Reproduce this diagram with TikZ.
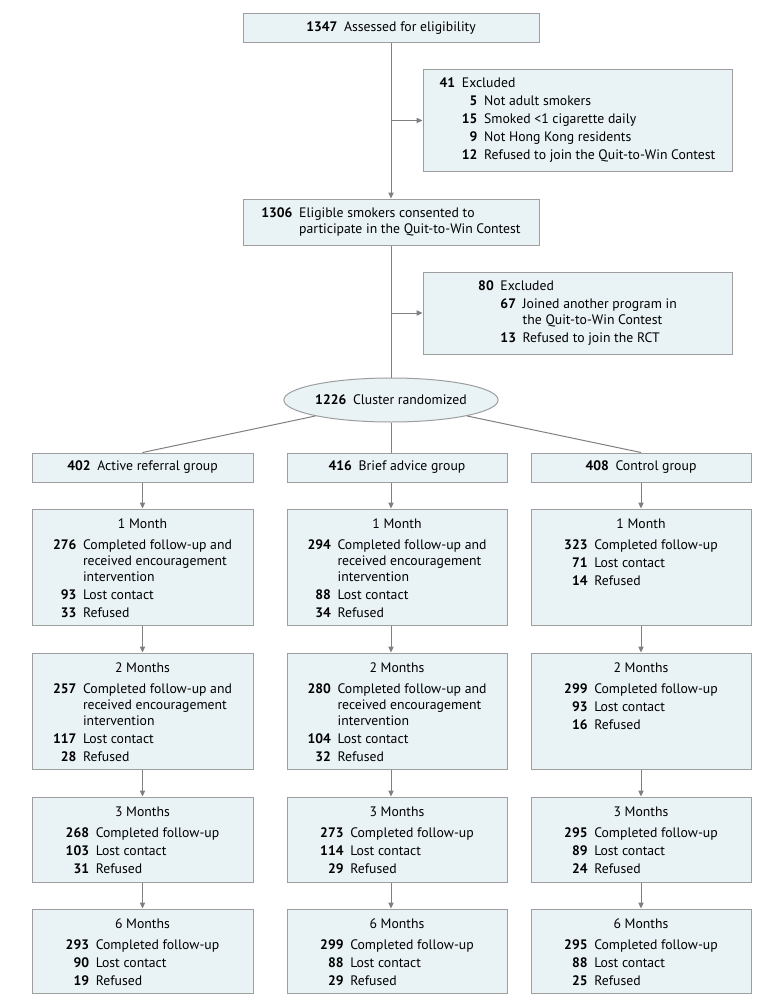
\documentclass[tikz,border=0pt]{standalone}
\usepackage{fontspec}
\setmainfont{PT Sans}
\usetikzlibrary{arrows.meta,shapes.geometric,fit}
\definecolor{boxfill}{RGB}{233,242,245}
\definecolor{boxdraw}{RGB}{158,158,158}
\definecolor{linec}{RGB}{128,128,128}
\newcommand\futab[2]{\begin{tabular}[t]{@{}r@{\hspace{5pt}}l@{}}\multicolumn{2}{c}{#1}\\[3.75pt]#2\end{tabular}}
\begin{document}
\begin{tikzpicture}[x=0.75pt,y=-0.75pt,
  box/.style={draw=boxdraw, fill=boxfill, line width=0.75pt, inner sep=0pt},
  txt/.style={inner sep=0pt, font=\fontsize{10.3}{12}\selectfont},
  conn/.style={draw=linec, line width=0.75pt},
  arr/.style={conn, -{Triangle[length=4.5pt,width=4pt]}}]
\fill[white] (0,0) rectangle (783,1006);
\useasboundingbox (0,0) rectangle (783,1006);

% top boxes
\node[box, fit={(243,14)(539,43)}] (b1) {};
\node[txt] (t1) at (b1.center) {\textbf{1347}\hspace{5pt}Assessed for eligibility};
\node[box, fit={(423,70)(732,171)}] (x1) {};
\node[txt] (tx1) at (x1.center) {\begin{tabular}{@{}r@{\hspace{5pt}}r@{\hspace{5pt}}l@{}}
\textbf{41} & \multicolumn{2}{@{}l@{}}{Excluded}\\[1.5pt]
& \textbf{5} & Not adult smokers\\[1.5pt]
& \textbf{15} & Smoked <1 cigarette daily\\[1.5pt]
& \textbf{9} & Not Hong Kong residents\\[1.5pt]
& \textbf{12} & Refused to join the Quit-to-Win Contest
\end{tabular}};
\node[box, fit={(243,199)(539,245)}] (b2) {};
\node[txt] (t2) at (b2.center) {\begin{tabular}{@{}r@{\hspace{5pt}}l@{}}
\textbf{1306} & Eligible smokers consented to\\
& participate in the Quit-to-Win Contest
\end{tabular}};
\node[box, fit={(423,272)(732,354)}] (x2) {};
\node[txt] (tx2) at (x2.center) {\begin{tabular}{@{}r@{\hspace{5pt}}r@{\hspace{5pt}}l@{}}
\textbf{80} & \multicolumn{2}{@{}l@{}}{Excluded}\\[1.5pt]
& \textbf{67} & Joined another program in\\
& & the Quit-to-Win Contest\\[1.5pt]
& \textbf{13} & Refused to join the RCT
\end{tabular}};
\node[box, ellipse, minimum width=157.5pt, minimum height=33pt, font=\fontsize{10.3}{12}\selectfont] (el) at (391,400) {\textbf{1226}\hspace{5pt}Cluster randomized};

% group boxes
\node[box, fit={(32,453)(253,482)}] (g1) {};
\node[txt] (tg1) at (g1.center) {\textbf{402}\hspace{5pt}Active referral group};
\node[box, fit={(287,453)(507,482)}] (g2) {};
\node[txt] (tg2) at (g2.center) {\textbf{416}\hspace{5pt}Brief advice group};
\node[box, fit={(531,453)(751,482)}] (g3) {};
\node[txt] (tg3) at (g3.center) {\textbf{408}\hspace{5pt}Control group};

% follow-up boxes
\node[box, fit={(32,509)(253,625)}] (l1) {};
\node[box, fit={(32,653)(253,769)}] (l2) {};
\node[box, fit={(32,797)(253,882)}] (l3) {};
\node[box, fit={(32,909)(253,993)}] (l6) {};
\node[box, fit={(287,509)(507,625)}] (c1) {};
\node[box, fit={(287,653)(507,769)}] (c2) {};
\node[box, fit={(287,797)(507,882)}] (c3) {};
\node[box, fit={(287,909)(507,993)}] (c6) {};
\node[box, fit={(531,509)(751,625)}] (r1) {};
\node[box, fit={(531,653)(751,769)}] (r2) {};
\node[box, fit={(531,797)(751,882)}] (r3) {};
\node[box, fit={(531,909)(751,993)}] (r6) {};

\node[txt, anchor=base] (tl1) at (142.5,528) {\futab{1 Month}{\textbf{276} & Completed follow-up and\\ & received encouragement\\ & intervention\\[1.5pt] \textbf{93} & Lost contact\\[1.5pt] \textbf{33} & Refused}};
\node[txt, anchor=base] (tl2) at (142.5,672) {\futab{2 Months}{\textbf{257} & Completed follow-up and\\ & received encouragement\\ & intervention\\[1.5pt] \textbf{117} & Lost contact\\[1.5pt] \textbf{28} & Refused}};
\node[txt, anchor=base] (tl3) at (142.5,816) {\futab{3 Months}{\textbf{268} & Completed follow-up\\[1.5pt] \textbf{103} & Lost contact\\[1.5pt] \textbf{31} & Refused}};
\node[txt, anchor=base] (tl6) at (142.5,928) {\futab{6 Months}{\textbf{293} & Completed follow-up\\[1.5pt] \textbf{90} & Lost contact\\[1.5pt] \textbf{19} & Refused}};

\node[txt, anchor=base] (tc1) at (397,528) {\futab{1 Month}{\textbf{294} & Completed follow-up and\\ & received encouragement\\ & intervention\\[1.5pt] \textbf{88} & Lost contact\\[1.5pt] \textbf{34} & Refused}};
\node[txt, anchor=base] (tc2) at (397,672) {\futab{2 Months}{\textbf{280} & Completed follow-up and\\ & received encouragement\\ & intervention\\[1.5pt] \textbf{104} & Lost contact\\[1.5pt] \textbf{32} & Refused}};
\node[txt, anchor=base] (tc3) at (397,816) {\futab{3 Months}{\textbf{273} & Completed follow-up\\[1.5pt] \textbf{114} & Lost contact\\[1.5pt] \textbf{29} & Refused}};
\node[txt, anchor=base] (tc6) at (397,928) {\futab{6 Months}{\textbf{299} & Completed follow-up\\[1.5pt] \textbf{88} & Lost contact\\[1.5pt] \textbf{29} & Refused}};

\node[txt, anchor=base] (tr1) at (641,528) {\futab{1 Month}{\textbf{323} & Completed follow-up\\[1.5pt] \textbf{71} & Lost contact\\[1.5pt] \textbf{14} & Refused}};
\node[txt, anchor=base] (tr2) at (641,672) {\futab{2 Months}{\textbf{299} & Completed follow-up\\[1.5pt] \textbf{93} & Lost contact\\[1.5pt] \textbf{16} & Refused}};
\node[txt, anchor=base] (tr3) at (641,816) {\futab{3 Months}{\textbf{295} & Completed follow-up\\[1.5pt] \textbf{89} & Lost contact\\[1.5pt] \textbf{24} & Refused}};
\node[txt, anchor=base] (tr6) at (641,928) {\futab{6 Months}{\textbf{295} & Completed follow-up\\[1.5pt] \textbf{88} & Lost contact\\[1.5pt] \textbf{25} & Refused}};

% connectors
\draw[arr] (b1.south) -- (b2.north);
\draw[arr] (b1.south |- x1.west) -- (x1.west);
\draw[conn] (b2.south) -- (el.north);
\draw[arr] (b2.south |- x2.west) -- (x2.west);
\draw[conn] (el) -- (g1.north);
\draw[conn] (el.south) -- (el.south |- g2.north);
\draw[conn] (el) -- (g3.north);

\draw[arr] (g1.south) -- (l1.north);
\draw[arr] (l1.south) -- (l2.north);
\draw[arr] (l2.south) -- (l3.north);
\draw[arr] (l3.south) -- (l6.north);

\draw[arr] (el.south |- g2.south) -- (el.south |- c1.north);
\draw[arr] (el.south |- c1.south) -- (el.south |- c2.north);
\draw[arr] (el.south |- c2.south) -- (el.south |- c3.north);
\draw[arr] (el.south |- c3.south) -- (el.south |- c6.north);

\draw[arr] (g3.south) -- (r1.north);
\draw[arr] (r1.south) -- (r2.north);
\draw[arr] (r2.south) -- (r3.north);
\draw[arr] (r3.south) -- (r6.north);
\end{tikzpicture}
\end{document}
